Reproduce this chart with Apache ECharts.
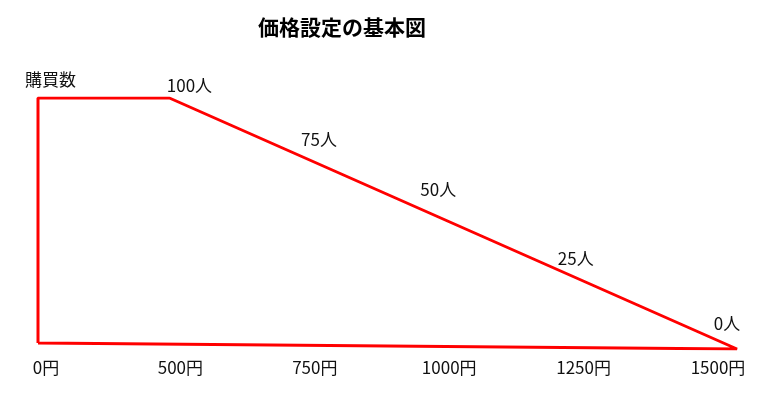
<!DOCTYPE html>
<html>
<head>
<meta charset="utf-8">
<script src="https://cdn.jsdelivr.net/npm/echarts@6/dist/echarts.min.js"></script>
<style>
html, body { margin: 0; padding: 0; background: #fff; }
#chart { width: 773px; height: 406px; }
</style>
</head>
<body>
<div id="chart"></div>
<script>
// 価格ラベル（横軸）
var priceLabels = ['0円', '500円', '750円', '1000円', '1250円', '1500円'];
// 外形の折れ線（x: 価格の目盛位置, y: 購買数）
var outlineX = [0, 0, 0.94, 5, 0];
var outlineY = [2.4, 100, 100, 0, 2.4];
// 購買数ラベル
var buyerLabels = ['100人', '75人', '50人', '25人', '0人'];
var buyerX = [0.94, 1.96, 2.97, 3.99, 5];
var buyerY = [100, 75, 50, 25, 0];
var labelOffsets = [[20, -12], [7, -21], [-15, -34], [-20, -28], [-10, -25]];

var FONT = '"Noto Sans CJK JP", "Noto Sans", sans-serif';

function initChart() {
    var chart = echarts.init(document.getElementById('chart'));

    var outline = outlineX.map(function(x, i) { return [x, outlineY[i]]; });
    var labelPoints = buyerX.map(function(x, i) {
        return {
            value: [x, buyerY[i]],
            label: { offset: labelOffsets[i], formatter: buyerLabels[i] }
        };
    });

    var option = {
        backgroundColor: '#fff',
        animation: false,
        title: {
            text: '価格設定の基本図',
            left: 253,
            top: 12,
            textStyle: { fontFamily: FONT, fontSize: 21, fontWeight: 'bold', color: '#000' }
        },
        grid: [
            { left: 38, right: 36, top: 98, bottom: 57 },
            { left: 46, right: 55, top: 98, bottom: 57 }
        ],
        xAxis: [
            { type: 'value', gridIndex: 0, min: 0, max: 5, show: false },
            {
                type: 'category',
                gridIndex: 1,
                data: priceLabels,
                boundaryGap: false,
                axisLine: { show: false },
                axisTick: { show: false },
                axisLabel: { margin: 10, fontFamily: FONT, fontSize: 17, color: '#111' }
            }
        ],
        yAxis: [
            {
                type: 'value',
                gridIndex: 0,
                min: 0,
                max: 100,
                name: '購買数',
                nameLocation: 'end',
                nameGap: 10,
                nameTextStyle: { fontFamily: FONT, fontSize: 17, color: '#111', align: 'center', padding: [0, 0, 0, 25] },
                axisLine: { show: false },
                axisTick: { show: false },
                axisLabel: { show: false },
                splitLine: { show: false }
            },
            { type: 'value', gridIndex: 1, show: false }
        ],
        series: [
            {
                type: 'line',
                xAxisIndex: 0,
                yAxisIndex: 0,
                data: outline,
                symbol: 'none',
                lineStyle: { color: '#ff0000', width: 3 },
                z: 2
            },
            {
                type: 'scatter',
                xAxisIndex: 0,
                yAxisIndex: 0,
                data: labelPoints,
                symbolSize: 0,
                itemStyle: { opacity: 1 },
                label: {
                    show: true,
                    position: 'inside',
                    fontFamily: FONT,
                    fontSize: 17,
                    color: '#111',
                    opacity: 1
                },
                z: 3
            }
        ]
    };

    chart.setOption(option);
}

document.addEventListener('DOMContentLoaded', initChart);
</script>
</body>
</html>
